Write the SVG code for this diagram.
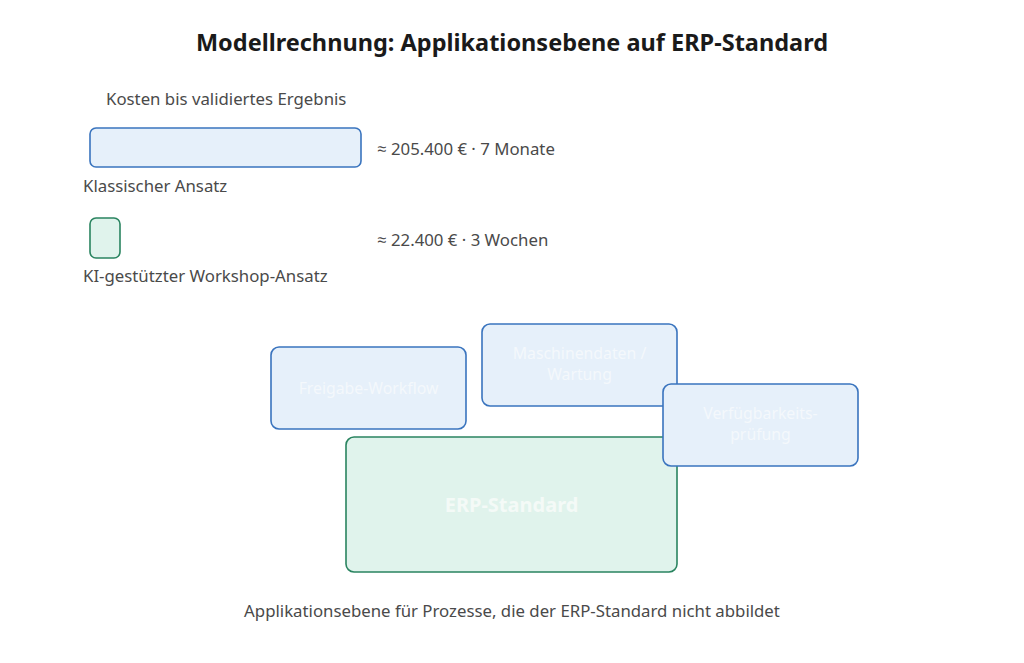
<svg xmlns="http://www.w3.org/2000/svg" width="1024" height="663" viewBox="0 0 1024 663">
<style>
text{font-family:"Noto Sans","Open Sans","Liberation Sans",sans-serif;fill:#4a4a4a}
.title{font-size:23.5px;font-weight:bold;fill:#1a1a1a}
.lbl{font-size:16.8px}
.blue{fill:#e6f0fa;stroke:#3a74be;stroke-width:1.6}
.green{fill:#e0f3ec;stroke:#2a8460;stroke-width:1.6}
.nt{font-size:15.8px;fill:#f4f8fc;text-anchor:middle}
.nb{font-size:20px;font-weight:bold;fill:#f4faf7;text-anchor:middle}
</style>
<rect width="1024" height="663" fill="#fff"/>
<text class="title" x="512" y="51" text-anchor="middle">Modellrechnung: Applikationsebene auf ERP-Standard</text>
<g id="legend">
<text class="lbl" x="106" y="105">Kosten bis validiertes Ergebnis</text>
<rect class="blue" x="90" y="128" width="271" height="39" rx="6"/>
<text class="lbl" x="377" y="155">≈ 205.400 € · 7 Monate</text>
<text class="lbl" x="83" y="192">Klassischer Ansatz</text>
<rect class="green" x="90" y="218" width="30" height="40" rx="6"/>
<text class="lbl" x="377" y="246">≈ 22.400 € · 3 Wochen</text>
<text class="lbl" x="83" y="282">KI-gestützter Workshop-Ansatz</text>
</g>
<g id="connectors"></g>
<g id="freigabe">
<rect class="blue" x="271" y="347" width="195" height="82" rx="8"/>
<text class="nt" x="368.5" y="394">Freigabe-Workflow</text>
</g>
<g id="maschinendaten">
<rect class="blue" x="482" y="324" width="195" height="82" rx="8"/>
<text class="nt" x="579.5" y="359">Maschinendaten /</text>
<text class="nt" x="579.5" y="380">Wartung</text>
</g>
<g id="erp">
<rect class="green" x="346" y="437" width="331" height="135" rx="8"/>
<text class="nb" x="511.5" y="512">ERP-Standard</text>
</g>
<g id="verfuegbarkeit">
<rect class="blue" x="663" y="384" width="195" height="82" rx="8"/>
<text class="nt" x="760.5" y="419">Verfügbarkeits-</text>
<text class="nt" x="760.5" y="440">prüfung</text>
</g>
<text class="lbl" x="512" y="617" text-anchor="middle">Applikationsebene für Prozesse, die der ERP-Standard nicht abbildet</text>
</svg>
